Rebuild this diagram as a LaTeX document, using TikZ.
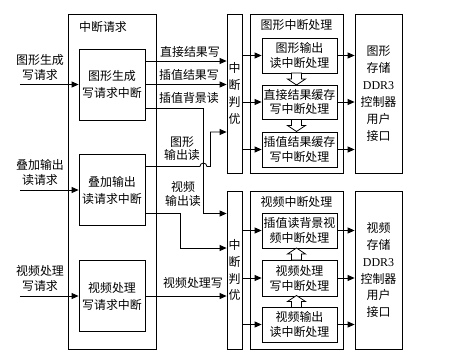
\documentclass[tikz,border=0pt]{standalone}
\usepackage{fontspec}
\setmainfont{Liberation Serif}
\newfontfamily\cjk{Noto Sans CJK SC}
\usetikzlibrary{arrows.meta, positioning, calc}

\begin{document}
\begin{tikzpicture}[x=1bp, y=-1bp, font=\cjk\fontsize{12}{15}\selectfont]
    \tikzstyle{block} = [rectangle, draw, line width=0.8bp, inner sep=0pt,
        align=center]
    \tikzstyle{tall} = [font=\cjk\fontsize{12}{17}\selectfont]
    \tikzstyle{txt} = [inner sep=0pt, align=center]
    \tikzstyle{line} = [draw, line width=0.8bp]
    \tikzstyle{arrow} = [draw, line width=0.8bp, -{Triangle[length=7bp, width=6bp]}]
    \tikzstyle{hollow} = [draw, line width=0.8bp, fill=white]

    \useasboundingbox (0,0) rectangle (476,358);
    %
    % request side
    \node [block, minimum width=88bp, minimum height=335bp] (req) at (112,181.5) {};
    \node [txt] (reqlbl) at (103,27) {中断请求};
    \node [block, tall, minimum width=66bp, minimum height=71bp] (gen) at (112,84.5) {图形生成\\写请求中断};
    \node [block, tall, minimum width=66bp, minimum height=71bp, below of=gen, node distance=105.5bp] (ovl) {叠加输出\\读请求中断};
    \node [block, tall, minimum width=66bp, minimum height=71bp, below of=ovl, node distance=106bp] (vid) {视频处理\\写请求中断};
    %
    \node [txt, left of=gen, node distance=72bp, yshift=17.5bp] (genin) {图形生成\\写请求};
    \node [txt, left of=ovl, node distance=72bp, yshift=17.5bp] (ovlin) {叠加输出\\读请求};
    \node [txt, left of=vid, node distance=72bp, yshift=17.5bp] (vidin) {视频处理\\写请求};
    \coordinate [left of=gen, node distance=92bp] (gensrc);
    \coordinate [left of=ovl, node distance=92bp] (ovlsrc);
    \coordinate [left of=vid, node distance=92bp] (vidsrc);
    \path [arrow] (gensrc) -- (gen);
    \path [arrow] (ovlsrc) -- (ovl);
    \path [arrow] (vidsrc) -- (vid);
    %
    % arbiters
    \node [block, tall, minimum width=15bp, minimum height=159bp] (arb1) at (234.5,93.5) {中\\断\\判\\优};
    \node [block, tall, minimum width=15bp, minimum height=158bp] (arb2) at (234.5,270) {中\\断\\判\\优};
    %
    % graphics interrupt handling
    \node [block, minimum width=93bp, minimum height=159bp] (gproc) at (296.5,93.5) {};
    \node [txt] (gproclbl) at (296.5,25) {图形中断处理};
    \node [block, minimum width=75bp, minimum height=35bp] (g1) at (299.5,55.5) {图形输出\\读中断处理};
    \node [block, minimum width=75bp, minimum height=34bp] (g2) at (299.5,102) {直接结果缓存\\写中断处理};
    \node [block, minimum width=75bp, minimum height=35bp] (g3) at (299.5,149.5) {插值结果缓存\\写中断处理};
    \node [block, tall, minimum width=47bp, minimum height=159bp] (gddr) at (378.5,93.5) {图形\\存储\\{\rmfamily DDR3}\\控制器\\用户\\接口};
    %
    % video interrupt handling
    \node [block, minimum width=93bp, minimum height=158bp] (vproc) at (296.5,270) {};
    \node [txt] (vproclbl) at (296.5,202) {视频中断处理};
    \node [block, minimum width=75bp, minimum height=35bp] (v1) at (299.5,230.5) {插值读背景视\\频中断处理};
    \node [block, minimum width=75bp, minimum height=36bp] (v2) at (299.5,278) {视频处理\\写中断处理};
    \node [block, minimum width=75bp, minimum height=35bp] (v3) at (299.5,324.5) {视频输出\\读中断处理};
    \node [block, tall, minimum width=47bp, minimum height=158bp] (vddr) at (378.5,270) {视频\\存储\\{\rmfamily DDR3}\\控制器\\用户\\接口};
    %
    \foreach \n in {g1, g2, g3} {
        \path [arrow] (arb1.east |- \n) -- (\n);
        \path [arrow] (\n) -- (\n -| gddr.west);
    }
    \foreach \n in {v1, v2, v3} {
        \path [arrow] (arb2.east |- \n) -- (\n);
        \path [arrow] (\n) -- (\n -| vddr.west);
    }
    \foreach \a/\b in {g1/g2, g2/g3} {
        \coordinate (hm) at ($(\a.south)!0.5!(\b.north)$);
        \draw [hollow, shift={(gproc |- hm)}] (-5,-6) -- (5,-6) -- (5,0) -- (9,0) -- (0,6) -- (-9,0) -- (-5,0) -- cycle;
    }
    \foreach \a/\b in {v1/v2, v2/v3} {
        \coordinate (hm) at ($(\a.south)!0.5!(\b.north)$);
        \draw [hollow, shift={(vproc |- hm)}] (-5,6) -- (5,6) -- (5,0) -- (9,0) -- (0,-6) -- (-9,0) -- (-5,0) -- cycle;
    }
    %
    % request to arbiter links
    \coordinate (genout1) at ($(gen.east)+(0,-23.5)$);
    \coordinate (genout3) at ($(gen.east)+(0,23.5)$);
    \coordinate (ovlout1) at ($(ovl.east)+(0,-23.5)$);
    \coordinate (ovlout2) at ($(ovl.east)+(0,23.5)$);
    \coordinate [right of=genout3, node distance=58bp] (genturn);
    \coordinate [right of=ovlout1, node distance=65bp] (ovlturn);
    \coordinate [right of=ovlout2, node distance=35bp] (ovlturn2);
    \coordinate (gfxread) at ($(arb1.west)+(0,38.5)$);
    \coordinate (vidread) at ($(arb2.west)+(0,-22)$);
    \path [arrow] (genout1) -- (genout1 -| arb1.west);
    \path [arrow] (gen) -- (gen -| arb1.west);
    \path [arrow] (genout3) -- (genturn) |- (ovlout2 -| arb2.west);
    \path [arrow] (ovlout1) -- ($(genturn |- ovlout1)+(-3.5,0)$) arc (180:360:3.5) -- (ovlturn) |- (gfxread);
    \path [arrow] (ovlout2) -- (ovlturn2) |- (vidread);
    \path [arrow] (vid) -- (vid -| arb2.west);
    %
    \node [txt] (l1) at (190,52) {直接结果写};
    \node [txt] (l2) at (189,75) {插值结果写};
    \node [txt] (l3) at (189,98) {插值背景读};
    \node [txt, font=\cjk\fontsize{12}{13.5}\selectfont] (l4) at (182,148.5) {图形\\输出读};
    \node [txt, font=\cjk\fontsize{12}{13.5}\selectfont] (l5) at (183,194) {视频\\输出读};
    \node [txt] (l6) at (193,283) {视频处理写};
\end{tikzpicture}
\end{document}
